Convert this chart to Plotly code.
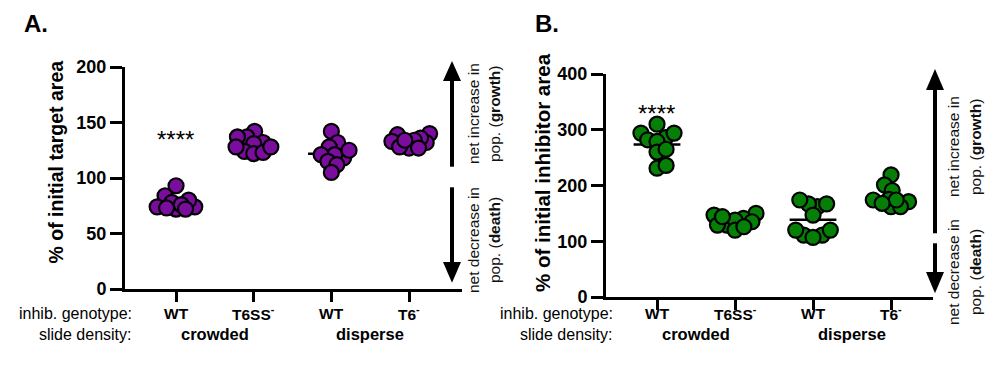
import math
import plotly.graph_objects as go

# ---------------- data ----------------
categories = ["WT", "T6SS<sup>-</sup>", "WT", "T6<sup>-</sup>"]
density_labels = ["crowded", "disperse"]

target_wt_crowded = [93, 84, 74, 74, 72, 78, 73, 80, 76, 72]
target_t6ss_crowded = [142, 132, 137, 131, 124, 122, 123, 128, 137, 128]
target_wt_disperse = [142, 132, 128, 118, 121, 121, 115, 112, 105, 125]
target_t6_disperse = [139, 140, 132, 136, 134, 133, 127, 127, 128, 134]

inhib_wt_crowded = [286, 294, 282, 294, 310, 279, 260, 265, 231, 236]
inhib_t6ss_crowded = [129, 147, 150, 141, 138, 129, 120, 135, 126, 144]
inhib_wt_disperse = [162, 167, 174, 167, 147, 111, 120, 111, 120, 107]
inhib_t6_disperse = [219, 201, 191, 171, 175, 174, 162, 162, 174, 168]

panel_a_groups = [target_wt_crowded, target_t6ss_crowded, target_wt_disperse, target_t6_disperse]
panel_b_groups = [inhib_wt_crowded, inhib_t6ss_crowded, inhib_wt_disperse, inhib_t6_disperse]

# ---------------- layout constants ----------------
W, H = 1006, 375
FONT = "Arial, Liberation Sans, Helvetica, sans-serif"
PURPLE = "#7A0C9E"
GREEN = "#067F06"


def fx(p):
    return p / W


def fy(p):
    return 1 - p / H


panels = [
    dict(xdom=(125, 462), ydom=(289, 67), xr=(-0.657, 3.682), yr=(0, 200),
         ticks=[0, 50, 100, 150, 200], groups=panel_a_groups, color=PURPLE,
         xa="x", ya="y", label="A.", label_x=22,
         title="% of initial target area", title_x=55, title_y=162.5, title_size=19.5,
         stars_x=175, stars_y=139, row_x=134,
         arrow_x=452, up=(61, 81, 166.7), down=(187.3, 262, 282.7),
         txt_x=(473, 494), inc_y=114, dec_y=240),
    dict(xdom=(606, 933), ydom=(297, 74), xr=(-0.654, 3.538), yr=(0, 400),
         ticks=[0, 100, 200, 300, 400], groups=panel_b_groups, color=GREEN,
         xa="x2", ya="y2", label="B.", label_x=533,
         title="% of initial inhibitor area", title_x=542, title_y=173, title_size=20.5,
         stars_x=656, stars_y=112, row_x=615,
         arrow_x=935, up=(69, 90, 233.3), down=(243.3, 272, 293.3),
         txt_x=(953, 975), inc_y=147, dec_y=272),
]


def swarm_offsets(values, px_per_y, px_per_x, min_dist, max_off):
    """Simple beeswarm in pixel space, with the spread clamped to +-max_off."""
    order = sorted(range(len(values)), key=lambda i: values[i])
    placed = []  # (x_px, y_px)
    offs = [0.0] * len(values)
    for i in order:
        y = values[i] * px_per_y
        cands = [0.0]
        for (px, py) in placed:
            dy = abs(py - y)
            if dy < min_dist:
                dx = math.sqrt(min_dist ** 2 - dy ** 2)
                cands += [px + dx, px - dx]
        cands = [c for c in cands if abs(c) <= max_off]
        cands.sort(key=abs)
        chosen = None
        for c in cands:
            if all((c - px) ** 2 + (y - py) ** 2 >= min_dist ** 2 - 1e-6 for (px, py) in placed):
                chosen = c
                break
        if chosen is None:
            grid = [max_off * (j / 20.0) for j in range(-20, 21)]
            chosen = max(grid, key=lambda c: min(((c - px) ** 2 + (y - py) ** 2) for (px, py) in placed))
        placed.append((chosen, y))
        offs[i] = chosen / px_per_x
    return offs


fig = go.Figure()
annotations = []
shapes = []

for k, p in enumerate(panels):
    x0, x1 = p["xdom"]
    yb, yt = p["ydom"]
    px_per_x = (x1 - x0) / (p["xr"][1] - p["xr"][0])
    px_per_y = (yb - yt) / (p["yr"][1] - p["yr"][0])
    for gi, vals in enumerate(p["groups"]):
        mean = sum(vals) / len(vals)
        fig.add_trace(go.Scatter(x=[gi - 0.3, gi + 0.3], y=[mean, mean], mode="lines",
                                 line=dict(color="black", width=2.5), xaxis=p["xa"], yaxis=p["ya"],
                                 showlegend=False, hoverinfo="skip"))
        offs = swarm_offsets(vals, px_per_y, px_per_x, 9.5, 21)
        fig.add_trace(go.Scatter(x=[gi + o for o in offs], y=vals, mode="markers",
                                 marker=dict(size=15, color=p["color"], line=dict(color="black", width=2.2)),
                                 xaxis=p["xa"], yaxis=p["ya"], showlegend=False))

    axis_suffix = "" if k == 0 else "2"
    fig.update_layout(**{
        "xaxis" + axis_suffix: dict(domain=[fx(x0), fx(x1)], range=list(p["xr"]), anchor=p["ya"],
                                    automargin=False,
                                    showgrid=False, zeroline=False, showline=True, linecolor="black",
                                    linewidth=3, ticks="outside", ticklen=10, tickwidth=3,
                                    tickcolor="black", tickvals=[0, 1, 2, 3], showticklabels=False),
        "yaxis" + axis_suffix: dict(domain=[fy(yb), fy(yt)], range=list(p["yr"]), anchor=p["xa"],
                                    automargin=False,
                                    showgrid=False, zeroline=False, showline=True, linecolor="black",
                                    linewidth=3, ticks="outside", ticklen=12, tickwidth=3,
                                    tickcolor="black", tickvals=p["ticks"],
                                    tickfont=dict(family=FONT, size=18, color="black", weight="bold")),
    })

    # panel label
    annotations.append(dict(text=p["label"], x=fx(p["label_x"]), y=fy(23), xref="paper", yref="paper",
                            xanchor="left", yanchor="middle", showarrow=False,
                            font=dict(family=FONT, size=24, color="black", weight="bold")))
    # y title
    annotations.append(dict(text=p["title"], x=fx(p["title_x"]), y=fy(p["title_y"]), xref="paper",
                            yref="paper", textangle=-90, xanchor="center", yanchor="middle",
                            showarrow=False,
                            font=dict(family=FONT, size=p["title_size"], color="black", weight="bold")))
    # significance stars
    annotations.append(dict(text="****", x=fx(p["stars_x"]), y=fy(p["stars_y"] + 1), xref="paper",
                            yref="paper", showarrow=False, xanchor="center", yanchor="middle",
                            font=dict(family=FONT, size=24, color="black")))
    # row labels
    annotations.append(dict(text="inhib. genotype:", x=fx(p["row_x"]), y=fy(313), xref="paper",
                            yref="paper", xanchor="right", yanchor="middle", showarrow=False,
                            font=dict(family=FONT, size=16, color="black")))
    annotations.append(dict(text="slide density:", x=fx(p["row_x"]), y=fy(334), xref="paper",
                            yref="paper", xanchor="right", yanchor="middle", showarrow=False,
                            font=dict(family=FONT, size=16, color="black")))
    for ci, cat in enumerate(categories):
        annotations.append(dict(text=cat, x=ci, y=fy(313), xref=p["xa"], yref="paper",
                                xanchor="center", yanchor="middle", showarrow=False,
                                font=dict(family=FONT, size=15.5, color="black", weight="bold")))
    for di, dl in enumerate(density_labels):
        annotations.append(dict(text=dl, x=2 * di + 0.5, y=fy(334), xref=p["xa"], yref="paper",
                                xanchor="center", yanchor="middle", showarrow=False,
                                font=dict(family=FONT, size=16.5, color="black", weight="bold")))
    # arrow texts
    tx1, tx2 = p["txt_x"]
    for text, tx, ty in [("net increase in", tx1, p["inc_y"]), ("pop. (<b>growth</b>)", tx2, p["inc_y"]),
                         ("net decrease in", tx1, p["dec_y"]), ("pop. (<b>death</b>)", tx2, p["dec_y"])]:
        annotations.append(dict(text=text, x=fx(tx), y=fy(ty), xref="paper", yref="paper",
                                textangle=-90, xanchor="center", yanchor="middle", showarrow=False,
                                font=dict(family=FONT, size=15.5, color="#111")))
    # arrows (shapes)
    ax = p["arrow_x"]
    tip, base, end = p["up"]
    hw = 9
    shapes.append(dict(type="line", xref="paper", yref="paper", x0=fx(ax), x1=fx(ax),
                       y0=fy(base), y1=fy(end), line=dict(color="black", width=4)))
    shapes.append(dict(type="path", xref="paper", yref="paper", fillcolor="black", line=dict(width=0),
                       path=f"M {fx(ax)},{fy(tip)} L {fx(ax - hw)},{fy(base)} L {fx(ax + hw)},{fy(base)} Z"))
    start, dbase, dtip = p["down"]
    shapes.append(dict(type="line", xref="paper", yref="paper", x0=fx(ax), x1=fx(ax),
                       y0=fy(start), y1=fy(dbase), line=dict(color="black", width=4)))
    shapes.append(dict(type="path", xref="paper", yref="paper", fillcolor="black", line=dict(width=0),
                       path=f"M {fx(ax)},{fy(dtip)} L {fx(ax - hw)},{fy(dbase)} L {fx(ax + hw)},{fy(dbase)} Z"))

fig.update_layout(template="none", width=W, height=H, margin=dict(l=0, r=0, t=0, b=0, pad=0),
                  paper_bgcolor="white", plot_bgcolor="white",
                  annotations=annotations, shapes=shapes, font=dict(family=FONT))

fig.write_html("out.html", config={"displayModeBar": False},
               post_script="document.body.style.margin='0';")
